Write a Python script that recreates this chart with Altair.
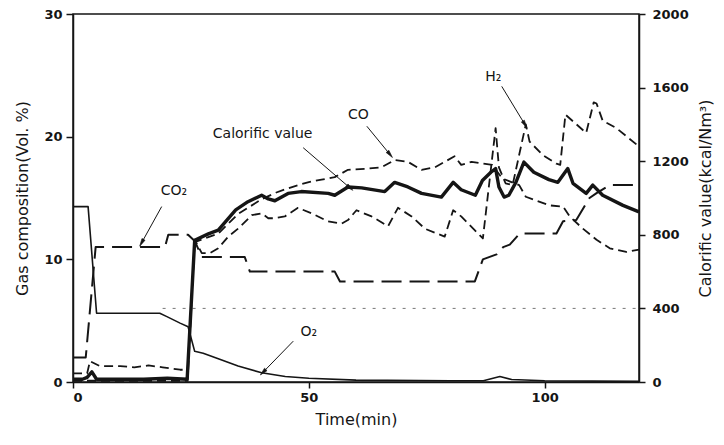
import math
import altair as alt
import pandas as pd

# ---------------- data ----------------
# Calorific value (kcal/Nm3, right axis)
cal_t = [0, 2, 3, 4, 5, 15, 20, 24.2, 25.8, 28.7, 30.8, 34.5, 37.1, 40, 41.4, 42.8, 45.6, 48.4,
         54.1, 55.5, 58.3, 61.2, 66.1, 68.2, 71, 73.9, 78.1, 80.6, 82.3, 85.3, 86.8, 88.6, 89.6,
         90.3, 91.4, 92.4, 93.9, 95.6, 97.7, 100.9, 102.8, 104.9, 106, 108.8, 110.2, 112.3, 116.6, 120]
cal_v = [15, 15, 25, 55, 15, 15, 20, 15, 770, 805, 825, 935, 980, 1015, 995, 985, 1025, 1035,
         1025, 1015, 1060, 1055, 1035, 1085, 1060, 1025, 1005, 1085, 1045, 1015, 1095, 1140, 1160,
         1060, 1005, 1015, 1085, 1195, 1140, 1100, 1085, 1160, 1080, 1025, 1070, 1015, 960, 925]

# Gas composition (vol. %, left axis)
co_t = [0, 3, 3.6, 5.7, 10, 13, 16, 19, 22.7, 24.3, 25.8, 30.8, 35, 40, 42.8, 44.9, 47.7, 50, 52.7,
        55.5, 58.3, 62.6, 65.4, 68.2, 71, 73.9, 76.7, 80.9, 82.3, 84.5, 88.9, 91, 94.6, 96, 98.1,
        101, 103.9, 105.3, 108.1, 111, 113.8, 117.3, 120]
co_v = [0.7, 0.7, 1.7, 1.3, 1.3, 1.2, 1.35, 1.2, 1.0, 1.0, 11.4, 12.1, 13.7, 14.9, 15.4, 15.7, 16.05,
        16.3, 16.5, 16.7, 17.3, 17.4, 17.5, 18.1, 17.95, 17.3, 17.5, 18.4, 17.7, 17.95, 17.7, 16.6,
        16.05, 15.1, 14.8, 14.4, 14.3, 13.5, 12.5, 11.6, 10.9, 10.6, 10.8]

h2_t = [0, 24.3, 25.8, 27.3, 29, 30.8, 32.9, 35, 37.9, 40, 41.4, 42.8, 44.9, 47.7, 50.6, 54, 56.9,
        58.3, 60.1, 63.3, 66.8, 68.9, 71.8, 74.6, 78.8, 80.6, 82.3, 86.9, 89.6, 90.3, 91.7, 93.2, 96,
        96.8, 99.6, 102.5, 103.3, 104.4, 108.8, 110.4, 111, 112.3, 115.2, 120]
h2_v = [0.1, 0.1, 11.6, 10.5, 10.5, 10.9, 11.85, 12.5, 13.6, 13.75, 13.35, 13.35, 13.5, 14.2, 13.75,
        13.1, 12.9, 13.2, 14.0, 13.5, 12.7, 14.2, 13.5, 12.5, 11.85, 14.0, 13.5, 11.7, 20.7, 17.5,
        16.2, 16.05, 21.0, 19.6, 18.5, 17.8, 17.7, 21.8, 20.3, 22.8, 22.7, 21.3, 20.7, 19.2]

co2_t = [0, 2.7, 4.8, 19.5, 20.2, 24.4, 25.8, 27.3, 36.4, 37.5, 55.5, 56.6, 85.2, 86.9, 89.8, 91.2,
         92.6, 94.7, 102.5, 103.9, 106.7, 109.5, 111, 113.8, 120]
co2_v = [2.0, 2.0, 11.0, 11.0, 12.0, 12.0, 11.5, 10.2, 10.2, 9.0, 9.0, 8.2, 8.2, 10.0, 10.4, 11.0,
         11.2, 12.1, 12.1, 13.1, 13.2, 15.0, 15.4, 16.05, 16.05]

o2_t = [0, 3.2, 5, 18.4, 19.8, 22.7, 24.4, 25.8, 27.6, 31.1, 35, 40, 45, 50, 60, 80, 87, 90.5, 93, 100, 120]
o2_v = [14.3, 14.3, 5.6, 5.6, 5.35, 4.8, 4.5, 2.5, 2.35, 1.85, 1.3, 0.75, 0.45, 0.3, 0.15, 0.1, 0.1,
        0.45, 0.2, 0.1, 0.05]

# faint dotted reference line (kcal)
ref_level = [400]
ref_from = [19]
ref_to = [120]

# annotations (in vol. % units)
ann_text = ["CO₂", "Calorific value", "CO", "H₂", "O₂"]
ann_t = [21.4, 40.2, 60.5, 89.1, 50.0]
ann_v = [15.6, 20.25, 21.8, 24.9, 4.1]
arr_t1 = [18.8, 48.8, 62.3, 90.9, 46.7]
arr_v1 = [14.3, 19.1, 20.85, 24.1, 3.33]
arr_t2 = [14.55, 58.7, 67.2, 95.8, 40.3]
arr_v2 = [11.35, 15.83, 18.55, 21.0, 0.8]

left_ticks = [0, 10, 20, 30]
right_ticks = [0, 400, 800, 1200, 1600, 2000]
x_ticks = [0, 50, 100]

# ---------------- chart ----------------
W, H = 566, 368
INK = "#151515"
FONT = "DejaVu Sans"

xs = alt.Scale(domain=[0, 120], nice=False, zero=False)
ls = alt.Scale(domain=[0, 30], nice=False, zero=False)
rs = alt.Scale(domain=[0, 2000], nice=False, zero=False)

x_axis = alt.Axis(values=x_ticks, title="Time(min)", grid=False, tickSize=6, labelPadding=3,
                  labelFont=FONT, labelFontSize=13, labelFontWeight="bold", labelColor=INK,
                  titleFont=FONT, titleFontSize=16, titleFontWeight="normal", titleColor=INK,
                  titleX=W / 2, titleY=37, titleBaseline="middle", format="d",
                  domainColor=INK, tickColor=INK, domainWidth=1.5, tickWidth=1.5)
left_axis = alt.Axis(values=left_ticks, title="Gas composition(Vol. %)", grid=False, tickSize=7,
                     labelPadding=4, labelFont=FONT, labelFontSize=13, labelFontWeight="bold",
                     labelColor=INK, titleFont=FONT, titleFontSize=16, titleFontWeight="normal",
                     titleColor=INK, titleAngle=270, titleX=-51, titleY=H / 2, format="d",
                     titleBaseline="middle", titleAlign="center",
                     domainColor=INK, tickColor=INK, domainWidth=1.5, tickWidth=1.5)
right_axis = alt.Axis(values=right_ticks, orient="right", title="Calorific value(kcal/Nm³)",
                      grid=False, tickSize=6, labelPadding=7, labelFont=FONT, labelFontSize=13,
                      labelFontWeight="bold", labelColor=INK, titleFont=FONT, titleFontSize=16,
                      titleFontWeight="normal", titleColor=INK, titleAngle=270, titleX=66,
                      titleY=H / 2, titleBaseline="middle", titleAlign="center", format="d",
                      domainColor=INK, tickColor=INK, domainWidth=1.5, tickWidth=1.5)

X = lambda f: alt.X(f, scale=xs, axis=x_axis)


def series(t, v, dash, width, yaxis=None, scale=ls):
    df = pd.DataFrame({"t": t, "v": v})
    mk = {"color": INK, "strokeWidth": width, "strokeJoin": "round"}
    if dash:
        mk["strokeDash"] = dash
    return alt.Chart(df).mark_line(**mk).encode(
        x=X("t:Q"),
        y=alt.Y("v:Q", scale=scale, axis=yaxis),
    )


co2_line = series(co2_t, co2_v, [20, 8], 2.0, yaxis=left_axis)
co_line = series(co_t, co_v, [9, 5], 1.8)
h2_line = series(h2_t, h2_v, [9, 5], 1.8)
o2_line = series(o2_t, o2_v, None, 1.6)
cal_line = series(cal_t, cal_v, None, 3.4, yaxis=right_axis, scale=rs)

ref_df = pd.DataFrame({"a": ref_from, "b": ref_to, "v": ref_level})
ref_rule = alt.Chart(ref_df).mark_rule(color="#777", strokeWidth=1, strokeDash=[3, 7]).encode(
    x=X("a:Q"), x2="b:Q",
    y=alt.Y("v:Q", scale=rs, axis=None),
)

pxx = W / 120.0
pxy = H / 30.0
angles = []
for a, b, c, d in zip(arr_t1, arr_v1, arr_t2, arr_v2):
    dx = (c - a) * pxx
    dy = -(d - b) * pxy
    angles.append(math.degrees(math.atan2(dx, -dy)) % 360)

arr_df = pd.DataFrame({"t1": arr_t1, "v1": arr_v1, "t2": arr_t2, "v2": arr_v2, "ang": angles})
arr_rules = alt.Chart(arr_df).mark_rule(color=INK, strokeWidth=1).encode(
    x=X("t1:Q"), x2="t2:Q",
    y=alt.Y("v1:Q", scale=ls, axis=None), y2="v2:Q",
)
arr_heads = alt.Chart(arr_df).mark_point(
    shape="M0,-1L-0.45,1L0.45,1Z", filled=True, fill=INK, stroke=INK, strokeWidth=0.6,
    opacity=1, size=60
).encode(
    x=X("t2:Q"),
    y=alt.Y("v2:Q", scale=ls, axis=None),
    angle=alt.Angle("ang:Q", scale=None),
)

ann_df = pd.DataFrame({"t": ann_t, "v": ann_v, "txt": ann_text})
ann_txt = alt.Chart(ann_df).mark_text(font=FONT, fontSize=14, color=INK, align="center",
                                      baseline="middle").encode(
    x=X("t:Q"),
    y=alt.Y("v:Q", scale=ls, axis=None),
    text="txt:N",
)

chart = alt.layer(
    co2_line, ref_rule, co_line, h2_line, o2_line, cal_line, arr_rules, arr_heads, ann_txt
).resolve_scale(y="independent").properties(
    width=W, height=H,
    padding={"left": 65, "top": 6, "right": 77, "bottom": 50},
    autosize=alt.AutoSizeParams(type="none"),
    background="white",
).configure_view(stroke=INK, strokeWidth=1.5)

chart.save("out.html", embed_options={"renderer": "svg", "actions": False})
